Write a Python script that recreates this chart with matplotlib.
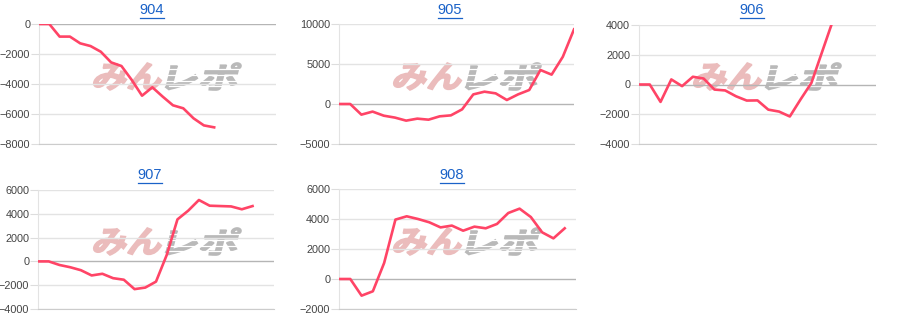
import numpy as np
import matplotlib.pyplot as plt
from matplotlib.textpath import TextPath
from matplotlib.patches import PathPatch
from matplotlib.font_manager import FontProperties
from matplotlib.transforms import Affine2D
from matplotlib.lines import Line2D

# machine numbers (chart titles)
titles = ['904', '905', '906', '907', '908']

# cumulative balance per game slot
v904 = [0, 0, -840, -840, -1290, -1470, -1850, -2560, -2800, -3730, -4780,
        -4220, -4840, -5420, -5620, -6290, -6760, -6890]
v905 = [0, 0, -1330, -950, -1460, -1700, -2080, -1830, -1960, -1540, -1420,
        -670, 1200, 1540, 1330, 500, 1200, 1750, 4250, 3670, 5900, 9330]
v906 = [0, 0, -1170, 340, -110, 520, 400, -340, -400, -790, -1080, -1070,
        -1690, -1820, -2150, -1000, 100, 2200, 4300]
v907 = [0, 0, -300, -490, -740, -1180, -1040, -1410, -1540, -2330, -2200,
        -1700, 540, 3530, 4260, 5160, 4680, 4650, 4620, 4380, 4650]
v908 = [0, 0, -1110, -820, 1070, 3960, 4180, 4000, 3780, 3440, 3560, 3220,
        3490, 3380, 3670, 4400, 4690, 4130, 3110, 2710, 3380]
series = [v904, v905, v906, v907, v908]

# x-axis slots and y ticks per chart
slots = [23, 21, 22, 22, 21]
yticks = [[-8000, -6000, -4000, -2000, 0],
          [-5000, 0, 5000, 10000],
          [-4000, -2000, 0, 2000, 4000],
          [-4000, -2000, 0, 2000, 4000, 6000],
          [-2000, 0, 2000, 4000, 6000]]

W, H = 900, 330
# plot areas in pixels: left, right, top, bottom
boxes = [(39, 276, 24, 144), (339, 574, 24, 144), (639, 876, 25, 144),
         (38, 274, 190, 309), (339, 576, 189, 309)]
offsets = [(0, 0), (300, 0), (600, 0), (0, 165), (300, 165)]
title_pos = [(152, 10), (450, 10), (752, 10), (150, 175), (452, 175)]

fig = plt.figure(figsize=(9, 3.3), dpi=100)
fp = FontProperties(family='Noto Sans CJK JP', weight='bold')
to_fig = Affine2D().scale(1 / W, 1 / H) + fig.transFigure


def logo(text, x0, x1, ytop, ybot, color):
    tp = TextPath((0, 0), text, size=100, prop=fp)
    bb = tp.get_extents()
    sx = (x1 - x0) / bb.width
    sy = (ybot - ytop) / bb.height
    tr = (Affine2D().translate(-bb.x0, -bb.y0).scale(sx, sy)
          .skew_deg(14, 0).translate(x0 - 3, H - ybot) + to_fig)
    p = PathPatch(tp, transform=tr, facecolor=color, edgecolor=color,
                  lw=1.2, zorder=-2)
    fig.add_artist(p)


texts = []
for i, vals in enumerate(series):
    l, r, t, b = boxes[i]
    ax = fig.add_axes([l / W, 1 - b / H, (r - l) / W, (b - t) / H])
    ax.set_facecolor('none')
    ax.plot(np.arange(len(vals)), vals, color='#ff4466', lw=1.9,
            solid_joinstyle='round', zorder=3)
    ax.set_xlim(0, slots[i])
    ax.set_ylim(yticks[i][0], yticks[i][-1])
    ax.set_yticks(yticks[i])
    ax.set_xticks([])
    for y in yticks[i]:
        c = '#b5b5b5' if y == 0 else '#e3e3e3'
        ax.axhline(y, color=c, lw=1, zorder=1)
    ax.tick_params(axis='y', length=6, width=0.8, color='#dddddd', pad=0.3,
                   labelsize=7.8, labelcolor='#444444')
    for lab in ax.get_yticklabels():
        lab.set_family(['Liberation Sans', 'DejaVu Sans'])
    for s in ['top', 'right']:
        ax.spines[s].set_visible(False)
    ax.spines['left'].set_color('#e3e3e3')
    ax.spines['bottom'].set_color('#cccccc')

    # watermark
    ox, oy = offsets[i]
    logo('みん', ox + 95, ox + 162, oy + 63, oy + 90, '#ebbcbc')
    logo('レポ', ox + 168, ox + 238, oy + 63, oy + 90, '#b9b9b9')
    # speed streaks through the grey half
    for k, yy in enumerate([69, 75, 81, 86]):
        fig.add_artist(Line2D([ox + 160 + 3 * k, ox + 240],
                              [H - oy - yy, H - oy - yy], color='white',
                              lw=0.9, transform=to_fig, zorder=-1.5))

    tx, ty = title_pos[i]
    tt = fig.text(tx / W, 1 - ty / H, titles[i], ha='center', va='center',
                  color='#1a62c8', fontsize=10.5,
                  family=['Liberation Sans', 'DejaVu Sans'])
    texts.append(tt)

# underline the titles like links
fig.canvas.draw()
for tt in texts:
    bb = tt.get_window_extent()
    y = (bb.y0 - 1) / H
    fig.add_artist(Line2D([bb.x0 / W, bb.x1 / W], [y, y], color='#1a62c8', lw=0.9))

fig.savefig('out.png', dpi=100)
